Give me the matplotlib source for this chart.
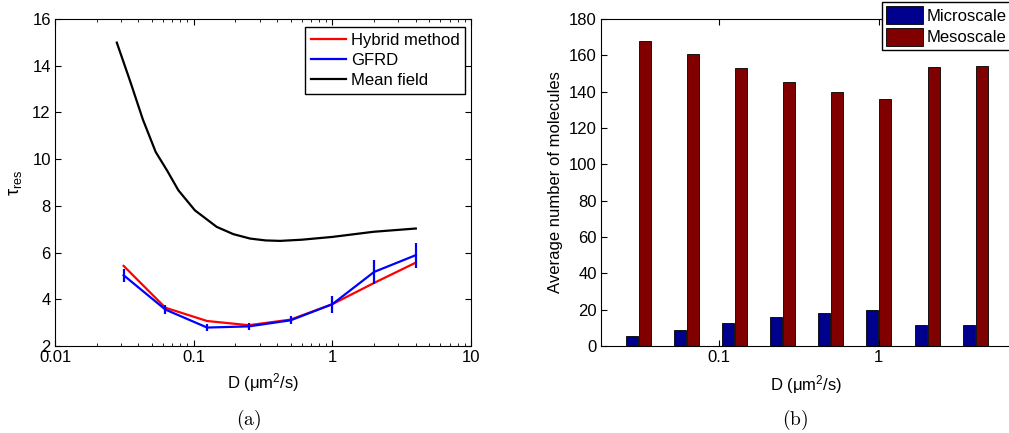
import numpy as np
import matplotlib
matplotlib.use('Agg')
import matplotlib.pyplot as plt
from matplotlib.lines import Line2D
from matplotlib.patches import Patch

plt.rcParams['font.family'] = ['Liberation Sans', 'DejaVu Sans']
plt.rcParams['mathtext.fontset'] = 'custom'
plt.rcParams['mathtext.rm'] = 'Liberation Sans'
plt.rcParams['mathtext.it'] = 'Liberation Sans'
plt.rcParams['mathtext.bf'] = 'Liberation Sans:bold'
plt.rcParams['font.size'] = 12

# diffusion constants (um^2/s)
D = [0.03125, 0.0625, 0.125, 0.25, 0.5, 1, 2, 4]

# panel (a): residence time
hybrid = [5.43, 3.64, 3.07, 2.89, 3.13, 3.79, 4.70, 5.57]
gfrd = [5.03, 3.56, 2.79, 2.84, 3.10, 3.79, 5.17, 5.89]
gfrd_err = [0.27, 0.20, 0.14, 0.14, 0.17, 0.36, 0.53, 0.54]
mf_D = [0.0279, 0.035, 0.043, 0.0532, 0.0645, 0.0775, 0.102, 0.1466, 0.193, 0.255, 0.33, 0.42, 0.6, 1.0, 1.98, 4.0]
mf_tau = [14.99, 13.3, 11.7, 10.31, 9.5, 8.67, 7.81, 7.10, 6.79, 6.60, 6.52, 6.50, 6.55, 6.67, 6.89, 7.03]
labels_a = ['Hybrid method', 'GFRD', 'Mean field']

# panel (b): average number of molecules
micro = [5.3, 8.6, 12.5, 15.8, 18.4, 20.0, 11.8, 11.4]
meso = [167.7, 160.9, 152.8, 145.3, 139.8, 135.9, 153.7, 154.3]
labels_b = ['Microscale', 'Mesoscale']

W, H = 1009, 433
fig = plt.figure(figsize=(W / 100, H / 100), dpi=100)

# ---- panel (a)
ax1 = fig.add_axes([55 / W, 1 - 346 / H, 416 / W, 327 / H])
ax1.plot(D, hybrid, color='red', lw=1.6)
ax1.errorbar(D, gfrd, yerr=gfrd_err, color='blue', lw=1.6, elinewidth=1.6,
             capsize=0)
ax1.plot(mf_D, mf_tau, color='black', lw=1.6)
ax1.set_xscale('log')
ax1.set_xlim(0.01, 10)
ax1.set_ylim(2, 16)
ax1.set_yticks(np.arange(2, 17, 2))
ax1.set_xticks([0.01, 0.1, 1, 10])
ax1.set_xticklabels(['0.01', '0.1', '1', '10'])
ax1.tick_params(which='both', direction='in', top=True, right=True, pad=3)
ax1.tick_params(which='major', length=4)
ax1.tick_params(which='minor', length=2)
ax1.set_xlabel('D (μm$^2$/s)', labelpad=4)
ax1.set_ylabel(r'$\tau_{\mathrm{res}}$', labelpad=6, fontsize=13)
h = [Line2D([], [], color='red', lw=1.6), Line2D([], [], color='blue', lw=1.6),
     Line2D([], [], color='black', lw=1.6)]
ax1.legend(h, labels_a, loc='upper left', bbox_to_anchor=(305 / W, 1 - 27 / H),
           bbox_transform=fig.transFigure, fancybox=False, edgecolor='black',
           framealpha=1, handlelength=2.1, borderaxespad=0, handletextpad=0.3,
           labelspacing=0.3, borderpad=0.35, fontsize=12)

# ---- panel (b)
ax2 = fig.add_axes([601 / W, 1 - 346 / H, 411 / W, 327 / H])
ax2.set_xscale('log')
dec = 160.0  # pixels per decade
Dv = np.array(D)
ml = Dv * 10 ** (-12.5 / dec)
mr = Dv * 10 ** (-0.5 / dec)
sl = Dv * 10 ** (0.5 / dec)
sr = Dv * 10 ** (12.5 / dec)
ax2.bar(ml, micro, width=mr - ml, align='edge', color='#00008F',
        edgecolor='black', lw=0.6)
ax2.bar(sl, meso, width=sr - sl, align='edge', color='#800000',
        edgecolor='black', lw=0.6)
ax2.set_xlim(0.0183, 6.8)
ax2.set_ylim(0, 180)
ax2.set_yticks(np.arange(0, 181, 20))
ax2.set_xticks([0.1, 1])
ax2.set_xticklabels(['0.1', '1'])
ax2.xaxis.set_minor_locator(matplotlib.ticker.NullLocator())
ax2.tick_params(which='both', direction='in', top=True, right=False, length=4, pad=3)
ax2.spines['right'].set_visible(False)
ax2.set_xlabel('D (μm$^2$/s)', labelpad=6)
ax2.set_ylabel('Average number of molecules', labelpad=4)
hb = [Patch(facecolor='#00008F', edgecolor='black', lw=0.6),
      Patch(facecolor='#800000', edgecolor='black', lw=0.6)]
ax2.legend(hb, labels_b, loc='upper left', bbox_to_anchor=(882 / W, 1 - 2 / H),
           bbox_transform=fig.transFigure, fancybox=False, edgecolor='black',
           framealpha=1, handlelength=2.2, handleheight=1.3,
           labelspacing=0.2, borderpad=0.25, handletextpad=0.2,
           borderaxespad=0, fontsize=12)

fig.text(249 / W, 1 - 420 / H, r'$\mathrm{(a)}$', ha='center', va='center',
         fontsize=14, math_fontfamily='cm')
fig.text(795 / W, 1 - 420 / H, r'$\mathrm{(b)}$', ha='center', va='center',
         fontsize=14, math_fontfamily='cm')

fig.savefig('out.png', dpi=100)
